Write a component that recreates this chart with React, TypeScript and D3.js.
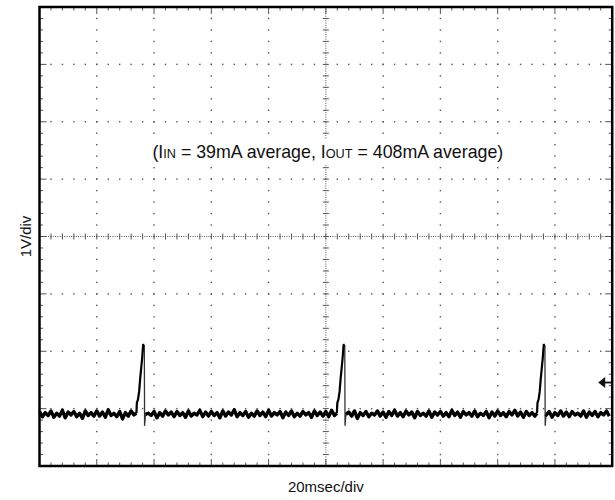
import React from "react";
import * as d3 from "d3";

// time axis: 20 ms/div, 10 divisions; voltage axis: 1 V/div, 8 divisions (centre = 0)
const timeDomain: [number, number] = [0, 200];
const voltDomain: [number, number] = [-4, 4];

// baseline trace, one sample per ms (0..200 ms), volts relative to screen centre
const baselineV = [
  -3.05,-3.14,-3.07,-3.12,-3.04,-3.15,-3.08,-3.13,-3.03,-3.16,-3.06,-3.11,-3.05,-3.14,-3.08,-3.17,-3.04,-3.12,-3.07,-3.13,
  -3.04,-3.13,-3.06,-3.15,-3.02,-3.12,-3.08,-3.14,-3.05,-3.18,-3.07,-3.13,-3.04,-3.11,-3.06,-3.15,-3.03,-3.13,-3.08,-3.12,
  -3.05,-3.16,-3.07,-3.13,-3.04,-3.11,-3.06,-3.14,-3.05,-3.12,-3.07,-3.15,-3.04,-3.13,-3.08,-3.11,-3.03,-3.14,-3.06,-3.13,
  -3.05,-3.12,-3.07,-3.16,-3.04,-3.13,-3.06,-3.11,-3.02,-3.14,-3.07,-3.12,-3.05,-3.15,-3.08,-3.13,-3.04,-3.12,-3.06,-3.14,
  -3.03,-3.13,-3.07,-3.11,-3.05,-3.16,-3.06,-3.12,-3.04,-3.14,-3.08,-3.13,-3.05,-3.11,-3.07,-3.15,-3.04,-3.12,-3.06,-3.13,
  -3.05,-3.14,-3.03,-3.12,-3.07,-3.15,-3.05,-3.11,-3.06,-3.13,-3.04,-3.17,-3.07,-3.12,-3.05,-3.14,-3.08,-3.11,-3.04,-3.13,
  -3.06,-3.15,-3.05,-3.12,-3.03,-3.13,-3.07,-3.14,-3.04,-3.11,-3.06,-3.16,-3.05,-3.12,-3.08,-3.13,-3.04,-3.15,-3.06,-3.11,
  -3.05,-3.13,-3.07,-3.14,-3.03,-3.12,-3.06,-3.15,-3.05,-3.11,-3.07,-3.13,-3.04,-3.14,-3.08,-3.12,-3.05,-3.16,-3.06,-3.13,
  -3.04,-3.12,-3.07,-3.14,-3.05,-3.11,-3.03,-3.13,-3.06,-3.15,-3.05,-3.12,-3.07,-3.13,-3.04,-3.14,-3.06,-3.11,-3.05,-3.15,
  -3.07,-3.12,-3.04,-3.13,-3.06,-3.14,-3.05,-3.11,-3.08,-3.13,-3.04,-3.15,-3.06,-3.12,-3.05,-3.14,-3.07,-3.11,-3.04,-3.13,
  -3.06,
];

// spike peak times (ms)
const spikeTimes = [36.3, 106.3, 176.2];
// spike shape: time offsets from peak (ms) and volts (rise part)
const spikeDt = [-2.45, -2.3, -1.9, -1.5, -1.15, -0.8, -0.45, -0.1, 0.3];
const spikeV = [-3.08, -2.9, -2.84, -2.7, -2.48, -2.3, -2.12, -1.89, -1.89];
// fast fall after peak: offsets (ms) and volts
const fallDt = [0.3, 0.4, 0.7];
const fallV = [-1.89, -3.3, -3.1];

// ground marker level (V)
const markerV = -2.545;

const xLabel = "20msec/div";
const yLabel = "1V/div";

export default function App() {
  const W = 615, H = 500;
  const x = d3.scaleLinear().domain(timeDomain).range([39.5, 612.2]);
  const y = d3.scaleLinear().domain(voltDomain).range([466, 7]);
  const line = d3.line<[number, number]>().x((d) => x(d[0])).y((d) => y(d[1]));

  // baseline segments between spikes
  const lastFall = fallDt[fallDt.length - 1];
  const bounds = [0, ...spikeTimes.flatMap((s) => [s + spikeDt[0], s + lastFall]), 200];
  const segments: [number, number][][] = [];
  for (let k = 0; k < bounds.length; k += 2) {
    const a = bounds[k], b = bounds[k + 1];
    const seg: [number, number][] = [];
    if (k > 0) seg.push([a, fallV[fallV.length - 1]]);
    baselineV.forEach((v, i) => { if (i > a && i < b) seg.push([i, v]); });
    if (k + 2 < bounds.length) seg.push([b, spikeV[0]]);
    if (k === 0) seg.unshift([0, baselineV[0]]);
    segments.push(seg);
  }
  const rises = spikeTimes.map((s) => spikeDt.map((dt, j) => [s + dt, spikeV[j]] as [number, number]));
  const falls = spikeTimes.map((s) => fallDt.map((dt, j) => [s + dt, fallV[j]] as [number, number]));

  const majorT = d3.range(0, 200.001, 20);
  const minorT = d3.range(0, 200.001, 4);
  const fineT = d3.range(0, 200.001, 0.8);
  const majorV = d3.range(-4, 4.001, 1);
  const minorV = d3.range(-4, 4.001, 0.2);
  const fineV = d3.range(-4, 4.001, 0.04);

  const dotC = "#555";
  const ds = 1.4;
  const dots: JSX.Element[] = [];
  majorT.slice(1, -1).forEach((t, i) => {
    if (t === 100) return;
    minorV.forEach((v, j) =>
      dots.push(<rect key={`vx${i}-${j}`} x={x(t) - ds / 2} y={y(v) - ds / 2} width={ds} height={ds} fill={dotC} />)
    );
  });
  majorV.slice(1, -1).forEach((v, i) => {
    if (v === 0) return;
    minorT.forEach((t, j) =>
      dots.push(<rect key={`hy${i}-${j}`} x={x(t) - ds / 2} y={y(v) - ds / 2} width={ds} height={ds} fill={dotC} />)
    );
  });
  fineT.forEach((t, j) =>
    dots.push(<rect key={`cf${j}`} x={x(t) - 0.5} y={y(0) - 0.5} width={1} height={1} fill={dotC} />)
  );
  fineV.forEach((v, j) =>
    dots.push(<rect key={`cv${j}`} x={x(100) - 0.5} y={y(v) - 0.5} width={1} height={1} fill={dotC} />)
  );

  const ticks: JSX.Element[] = [];
  const tc = "#555";
  minorT.forEach((t, j) =>
    ticks.push(<line key={`ct${j}`} x1={x(t)} x2={x(t)} y1={y(0) - 3} y2={y(0) + 3} stroke={tc} strokeWidth={1} />)
  );
  minorV.forEach((v, j) =>
    ticks.push(<line key={`cvt${j}`} x1={x(100) - 3} x2={x(100) + 3} y1={y(v)} y2={y(v)} stroke={tc} strokeWidth={1} />)
  );
  minorT.forEach((t, j) => {
    const len = majorT.includes(t) ? 7 : 3.5;
    ticks.push(<line key={`tt${j}`} x1={x(t)} x2={x(t)} y1={y(4)} y2={y(4) + len} stroke={tc} strokeWidth={1} />);
    ticks.push(<line key={`bt${j}`} x1={x(t)} x2={x(t)} y1={y(-4)} y2={y(-4) - len} stroke={tc} strokeWidth={1} />);
  });
  minorV.forEach((v, j) => {
    const len = Math.abs(v - Math.round(v)) < 1e-6 ? 7 : 3.5;
    ticks.push(<line key={`lt${j}`} x1={x(0)} x2={x(0) + len} y1={y(v)} y2={y(v)} stroke={tc} strokeWidth={1} />);
    ticks.push(<line key={`rt${j}`} x1={x(200)} x2={x(200) - len} y1={y(v)} y2={y(v)} stroke={tc} strokeWidth={1} />);
  });

  const my = y(markerV);
  const mx = x(200);

  return (
    <svg width={W} height={H} style={{ position: "absolute", left: 0, top: 0 }}
      fontFamily="'Liberation Sans', Arial, Helvetica, sans-serif">
      <rect x={0} y={0} width={W} height={H} fill="#fff" />
      {dots}
      {ticks}
      {falls.map((f, i) => (
        <path key={`f${i}`} d={line(f) || ""} fill="none" stroke="#333" strokeWidth={1.3} />
      ))}
      {rises.map((r, i) => (
        <path key={`r${i}`} d={line(r) || ""} fill="none" stroke="#000" strokeWidth={2.2} strokeLinejoin="round" />
      ))}
      {segments.map((s, i) => (
        <path key={`s${i}`} d={line(s) || ""} fill="none" stroke="#000" strokeWidth={3.4} strokeLinejoin="round" />
      ))}
      <polygon points={`${mx - 14},${my} ${mx - 7},${my - 5.5} ${mx - 7},${my + 5.5}`} fill="#111" />
      <line x1={mx - 8} x2={mx} y1={my} y2={my} stroke="#111" strokeWidth={1.8} />
      <rect x={x(0)} y={y(4)} width={x(200) - x(0)} height={y(-4) - y(4)} fill="none" stroke="#000" strokeWidth={2.5} />
      <rect x={150} y={139} width={356} height={26} fill="#fff" />
      <text x={x(100) + 2} y={157.5} textAnchor="middle" fontSize={17.8} fill="#111">
        (I<tspan fontSize={12.7}>IN</tspan> = 39mA average, I<tspan fontSize={12.7}>OUT</tspan> = 408mA average)
      </text>
      <text x={x(100)} y={492} textAnchor="middle" fontSize={15} fill="#111">{xLabel}</text>
      <text transform={`translate(31,${y(0)}) rotate(-90)`} textAnchor="middle" fontSize={15} fill="#111">{yLabel}</text>
    </svg>
  );
}
